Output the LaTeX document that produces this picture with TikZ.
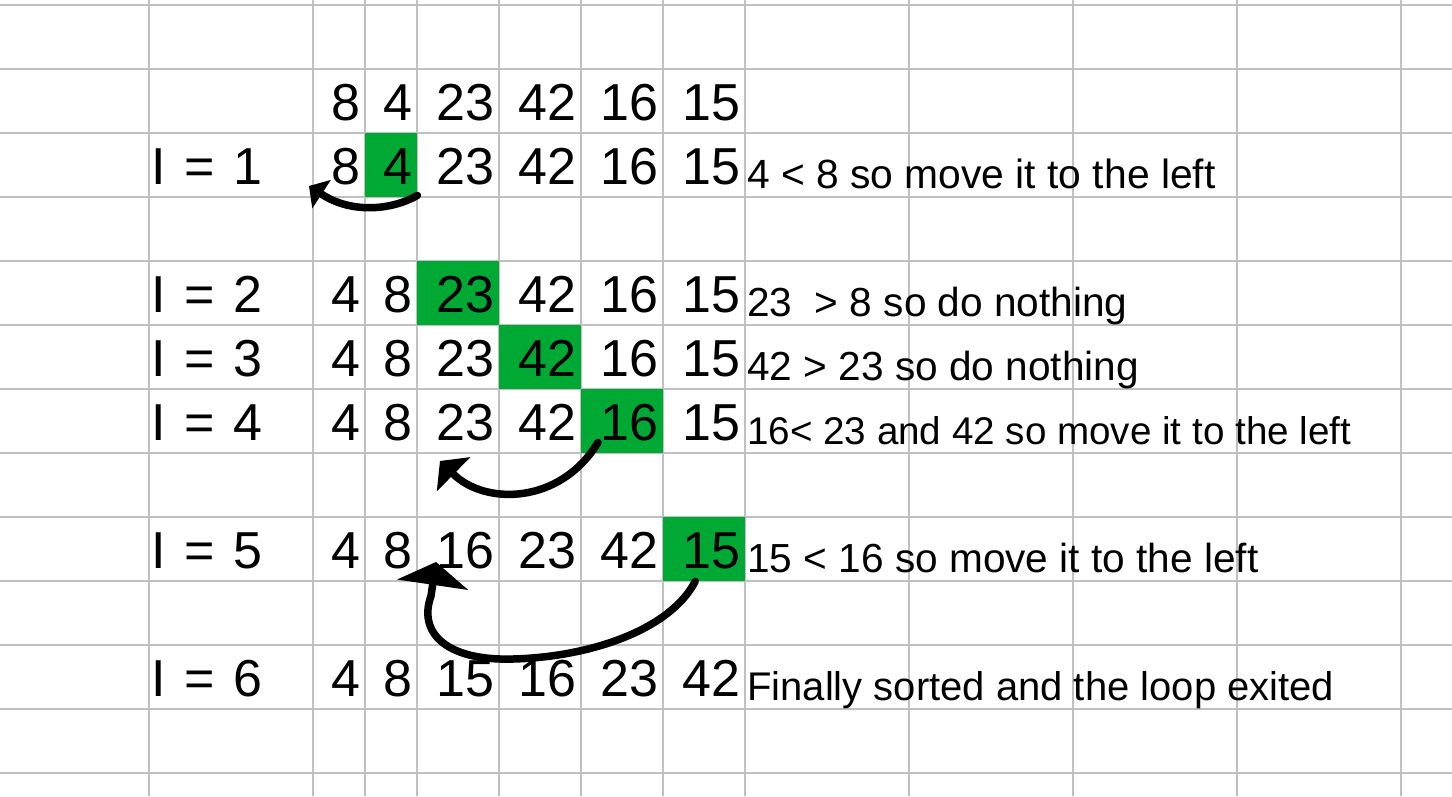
\documentclass[tikz,border=0pt]{standalone}
\usepackage{fontspec}
\setmainfont{Liberation Sans}
\usetikzlibrary{arrows.meta}
\definecolor{cellGreen}{HTML}{00A933}
\definecolor{gridGray}{HTML}{C0C0C0}
\tikzset{%
  % Specifications for style of nodes:
     gridLine/.style = {draw=gridGray, line width=2pt},
    greenCell/.style = {rectangle, fill=cellGreen, inner sep=0pt, anchor=north west,
                        minimum width=#1, minimum height=64pt},
      numCell/.style = {inner sep=0pt, anchor=base east, font=\fontsize{52}{60}\selectfont},
      rowName/.style = {inner sep=0pt, anchor=base west, font=\fontsize{52}{60}\selectfont},
     noteText/.style = {inner sep=0pt, anchor=base west, font=\fontsize{#1}{48}\selectfont},
     noteText/.default = 40.6,
    moveArrow/.style 2 args = {line width=7.5pt, line cap=round,
                        -{Triangle[width=#1, length=#2, line width=0pt, fill=black]}},
}

\begin{document}
\begin{tikzpicture}[x=1pt, y=-1pt]
  \useasboundingbox (0,0) rectangle (1452,796);

  % spreadsheet grid
  \foreach \x in {149,313,365,417,499,581,663,745,909,1073,1237,1401}
    \draw[gridLine] (\x,0) -- (\x,796);
  \foreach \y in {5,69,133,197,261,325,389,453,517,581,645,709,773}
    \draw[gridLine] (0,\y) -- (1452,\y);

  % highlighted cells
  \node (hl1) [greenCell=52pt] at (365,133) {};
  \node (hl2) [greenCell=82pt] at (417,261) {};
  \node (hl3) [greenCell=82pt] at (499,325) {};
  \node (hl4) [greenCell=82pt] at (581,389) {};
  \node (hl5) [greenCell=82pt] at (663,517) {};

  % the numbers, one row per step
  \foreach \r/\y/\vals in {0/120/{8,4,23,42,16,15},
                           1/184/{8,4,23,42,16,15},
                           2/312/{4,8,23,42,16,15},
                           3/376/{4,8,23,42,16,15},
                           4/440/{4,8,23,42,16,15},
                           5/568/{4,8,16,23,42,15},
                           6/696/{4,8,15,16,23,42}}
    \foreach \v [count=\c] in \vals {
      \pgfmathsetmacro\xr{{361,413,495,577,659,741}[\c-1]}
      \node (n\r-\c) [numCell] at (\xr,\y) {\v};
    }

  \foreach \r/\y in {1/184,2/312,3/376,4/440,5/568,6/696}
    \node (i\r) [rowName] at (151,\y) {I\kern4pt{} =\kern5pt{} \r};

  \node (note1) [noteText=40.8] at (747,188) {4 < 8 so move it to the left};
  \node (note2) [noteText] at (747,316) {23\ \ > 8 so do nothing};
  \node (note3) [noteText] at (747,380) {42 > 23 so do nothing};
  \node (note4) [noteText=38.6] at (747,444) {16< 23 and 42 so move it to the left};
  \node (note5) [noteText] at (747,572) {15 < 16 so move it to the left};
  \node (note6) [noteText=40] at (747,700) {Finally sorted and the loop exited};

  % where the moved number goes
  \coordinate (tip1) at (309,186);
  \coordinate (tip2) at (440,461);
  \coordinate (tip3) at (436,562);

  \draw[moveArrow={34pt}{15pt}] ([yshift=2pt]hl1.south east)
    .. controls (392,210) and (352,214) .. (tip1);
  \draw[moveArrow={48pt}{19pt}] ([shift={(17pt,11pt)}]hl4.south west)
    .. controls (560,505) and (485,505) .. (tip2);
  \draw[moveArrow={72pt}{23pt}] ([xshift=-9pt]hl5.south)
    .. controls (670,630) and (590,657) .. (513,659)
    .. controls (445,661) and (418,632) .. (431,596) -- (tip3);
\end{tikzpicture}
\end{document}
